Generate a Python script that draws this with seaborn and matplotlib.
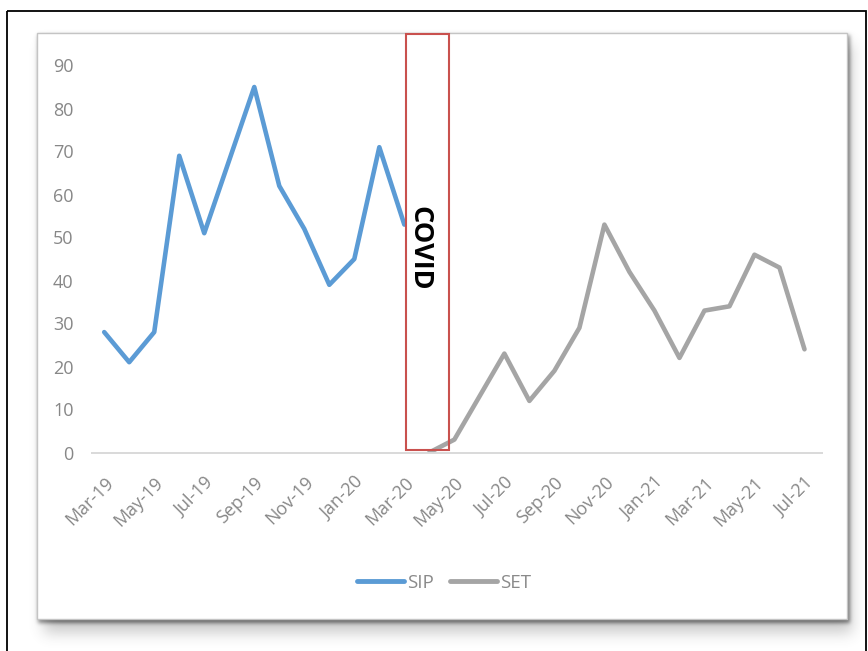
import numpy as np
import pandas as pd
import matplotlib
matplotlib.use("Agg")
import matplotlib.pyplot as plt
from matplotlib.patches import Rectangle
import seaborn as sns

# ---- data -------------------------------------------------------------
months = pd.date_range("2019-03-01", "2021-07-01", freq="MS").strftime("%b-%y").tolist()

sip_months = months[:13]          # Mar-19 .. Mar-20
sip_values = [28, 21, 28, 69, 51, 68, 85, 62, 52, 39, 45, 71, 53]

set_months = months[13:]          # Apr-20 .. Jul-21
set_values = [0, 3, 13, 23, 12, 19, 29, 53, 42, 33, 22, 33, 34, 46, 43, 24]

y_ticks = [0, 10, 20, 30, 40, 50, 60, 70, 80, 90]
x_tick_labels = months[::2]
series_colors = {"SIP": "#5B9BD5", "SET": "#A5A5A5"}
covid_label = "COVID"
covid_months = ["Mar-20", "May-20"]

# ---- long table for seaborn ----------------------------------------------
df = pd.concat([
    pd.DataFrame({"month": sip_months, "value": sip_values, "series": "SIP"}),
    pd.DataFrame({"month": set_months, "value": set_values, "series": "SET"}),
], ignore_index=True)
df["pos"] = df["month"].map({m: i for i, m in enumerate(months)})

sns.set_style("white")
plt.rcParams["font.family"] = ["Open Sans", "DejaVu Sans"]

W, H = 868, 651
fig = plt.figure(figsize=(W / 100, H / 100), dpi=100)

# ---- background: outer frame, chart panel with soft drop shadow ---------
bg = fig.add_axes([0, 0, 1, 1], zorder=0)
bg.set_xlim(0, W)
bg.set_ylim(H, 0)
bg.axis("off")

yy, xx = np.mgrid[0:H, 0:W]


def soft_rect(x0, y0, x1, y1, s):
    m = ((xx >= x0) & (xx < x1) & (yy >= y0) & (yy < y1)).astype(float)
    r = int(3 * s)
    k = np.exp(-0.5 * (np.arange(-r, r + 1) / s) ** 2)
    k /= k.sum()
    m = np.apply_along_axis(lambda v: np.convolve(v, k, mode="same"), 1, m)
    m = np.apply_along_axis(lambda v: np.convolve(v, k, mode="same"), 0, m)
    return m


alpha = 0.6 * soft_rect(38, 35, 850, 623, 2.0) + 0.3 * soft_rect(44, 44, 852, 633, 7.0)
alpha = np.clip(alpha, 0, 1)
shadow = np.zeros((H, W, 4))
shadow[..., :3] = 0.33
shadow[..., 3] = alpha
bg.imshow(shadow, extent=(0, W, H, 0), interpolation="bilinear", zorder=1)

bg.add_patch(Rectangle((37, 33), 810, 586, facecolor="white",
                       edgecolor="#c4c4c4", linewidth=1.0, zorder=2))
bg.add_patch(Rectangle((7, 11), 859, 700, facecolor="none",
                       edgecolor="black", linewidth=1.3, zorder=3, clip_on=False))

# ---- main chart ---------------------------------------------------------
left_px, right_px, bottom_px, top_px = 91.7, 822.0, 452.5, 34.0
ax = fig.add_axes([left_px / W, (H - bottom_px) / H,
                   (right_px - left_px) / W, (bottom_px - top_px) / H], zorder=2)
ax.patch.set_alpha(0)

sns.lineplot(data=df, x="pos", y="value", hue="series", palette=series_colors,
             linewidth=3.3, ax=ax)

ymax = (bottom_px - top_px) / 4.3
ax.set_xlim(-0.5, 28.7)
ax.set_ylim(0, ymax)
ax.set_xlabel("")
ax.set_ylabel("")

ax.set_yticks(y_ticks)
ax.set_xticks(range(0, len(months), 2))
ax.set_xticklabels(x_tick_labels)
ax.set_xticks(np.arange(-0.5, len(months) - 1, 2), minor=True)
plt.setp(ax.get_xticklabels(), rotation=45, ha="right", va="top",
         rotation_mode="anchor")

tick_color = "#878787"
ax.tick_params(axis="x", which="major", length=0, pad=15,
               labelsize=13, labelcolor=tick_color)
ax.tick_params(axis="x", which="minor", length=5, width=1.2,
               color="#d9d9d9", direction="out")
ax.tick_params(axis="y", length=0, pad=13, labelsize=13, labelcolor=tick_color)

for side in ["left", "top", "right"]:
    ax.spines[side].set_visible(False)
ax.spines["bottom"].set_color("#d9d9d9")
ax.spines["bottom"].set_linewidth(1.4)
ax.grid(False)

# COVID gap marker
i0 = months.index(covid_months[0])
box_x0, box_x1 = i0 + 0.06, i0 + 1.78
ax.add_patch(Rectangle((box_x0, 0.5), box_x1 - box_x0, ymax - 0.5,
                       facecolor="none", edgecolor="#c9514e", linewidth=1.5,
                       clip_on=False, zorder=4))
ax.text(i0 + 0.62, 47.6, covid_label, rotation=-90, ha="center", va="center",
        fontsize=19.5, fontweight="bold", color="black", zorder=5)

# ---- legend -------------------------------------------------------------
handles, labels = ax.get_legend_handles_labels()
ax.get_legend().remove()
leg = fig.legend(handles, labels, loc="center",
                 bbox_to_anchor=(444 / W, 1 - 583 / H), ncol=2, frameon=False,
                 handlelength=2.5, handletextpad=0.15, columnspacing=0.9,
                 fontsize=13.5, labelcolor="#8a8a8a")
for h in leg.legend_handles:
    h.set_linewidth(3.5)

fig.savefig("out.png", dpi=100)
